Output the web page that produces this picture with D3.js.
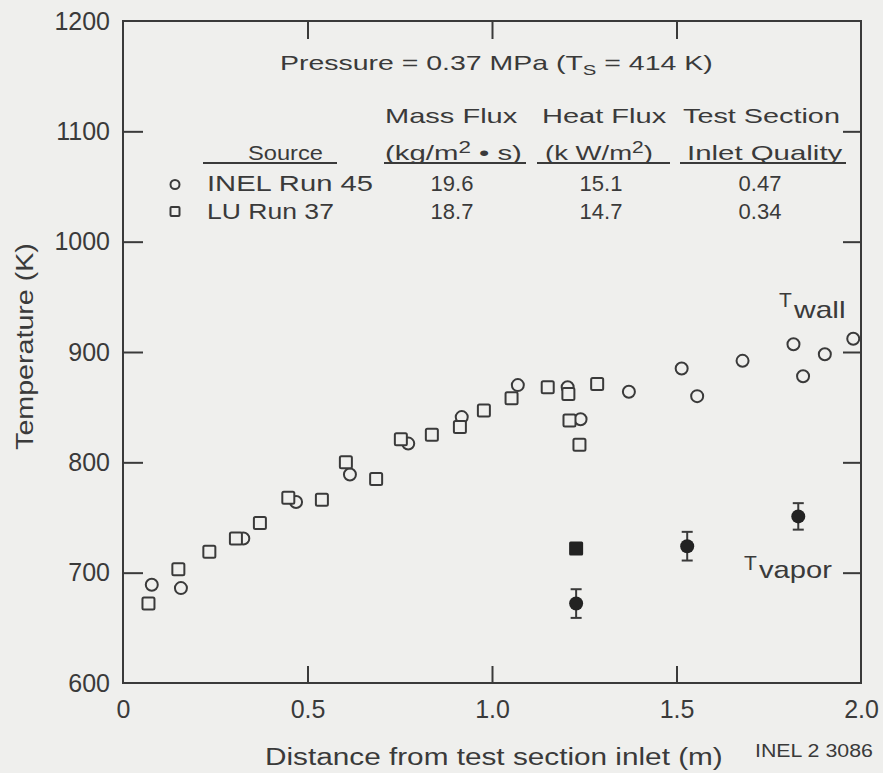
<!DOCTYPE html>
<html>
<head>
<meta charset="utf-8">
<script src="https://cdn.jsdelivr.net/npm/d3@7"></script>
<style>
  html, body { margin: 0; padding: 0; background: #efefed; }
  svg { display: block; }
  text { font-family: "Liberation Sans", Arial, Helvetica, sans-serif; fill: #3a3a3a; }
</style>
</head>
<body>
<svg id="chart" width="883" height="773"></svg>
<script>
// ---------------- data ----------------
const xTickValues = [0, 0.5, 1.0, 1.5, 2.0];
const xTickLabels = ["0", "0.5", "1.0", "1.5", "2.0"];
const yTickValues = [600, 700, 800, 900, 1000, 1100, 1200];
const yTickLabels = ["600", "700", "800", "900", "1000", "1100", "1200"];

// INEL Run 45 wall temperatures (open circles)
const inelX = [0.078, 0.157, 0.326, 0.469, 0.615, 0.773, 0.918, 1.070, 1.205, 1.240, 1.371, 1.514, 1.556, 1.679, 1.817, 1.843, 1.902, 1.979];
const inelY = [689, 686, 731, 764, 789, 817, 841, 870, 868, 839, 864, 885, 860, 892, 907, 878, 898, 912];

// LU Run 37 wall temperatures (open squares)
const luX = [0.069, 0.150, 0.234, 0.306, 0.371, 0.448, 0.539, 0.604, 0.686, 0.753, 0.837, 0.913, 0.978, 1.053, 1.151, 1.207, 1.210, 1.237, 1.285];
const luY = [672, 703, 719, 731, 745, 768, 766, 800, 785, 821, 825, 832, 847, 858, 868, 862, 838, 816, 871];

// INEL vapor temperatures (filled circles, with error bars)
const inelVaporX = [1.228, 1.529, 1.830];
const inelVaporY = [672, 724, 751];
const inelVaporErr = [13, 13, 12];

// LU vapor temperature (filled square)
const luVaporX = [1.228];
const luVaporY = [722];

// table
const tableSources = ["INEL  Run 45", "LU Run 37"];
const tableMassFlux = ["19.6", "18.7"];
const tableHeatFlux = ["15.1", "14.7"];
const tableQuality = ["0.47", "0.34"];

// ---------------- layout ----------------
const INK = "#3a3a3a";
const BG = "#efefed";
const L = 123, R = 861, T = 21, B = 683;

const svg = d3.select("#chart");
svg.append("rect").attr("width", 883).attr("height", 773).attr("fill", BG);

const x = d3.scaleLinear().domain([0, 2]).range([L, R]);
const y = d3.scaleLinear().domain([600, 1200]).range([B, T]);

// helper: stretch text horizontally to a target width
function fit(sel, x0, w) {
  const bw = sel.node().getBBox().width;
  const k = w / bw;
  sel.attr("transform", `translate(${x0},0) scale(${k},1) translate(${-x0},0)`);
  return sel;
}

// axes
const axL = svg.append("g").attr("transform", `translate(${L},0)`)
  .call(d3.axisLeft(y).tickValues(yTickValues).tickFormat((d, i) => yTickLabels[i])
        .tickSizeInner(-20).tickSizeOuter(0).tickPadding(13));
const axB = svg.append("g").attr("transform", `translate(0,${B})`)
  .call(d3.axisBottom(x).tickValues(xTickValues).tickFormat((d, i) => xTickLabels[i])
        .tickSizeInner(-17).tickSizeOuter(0).tickPadding(17));
const axT = svg.append("g").attr("transform", `translate(0,${T})`)
  .call(d3.axisTop(x).tickValues(xTickValues.slice(1, -1)).tickFormat("")
        .tickSizeInner(-18).tickSizeOuter(0));
const axR = svg.append("g").attr("transform", `translate(${R},0)`)
  .call(d3.axisRight(y).tickValues(yTickValues.slice(1, -1)).tickFormat("")
        .tickSizeInner(-18).tickSizeOuter(0));

[axL, axB, axT, axR].forEach(g => {
  g.select(".domain").remove();
  g.selectAll(".tick line").attr("stroke", INK).attr("stroke-width", 2);
  g.selectAll(".tick text").attr("fill", INK).style("font-size", "25px")
    .style("font-family", '"Liberation Sans", Arial, sans-serif');
});
// remove corner ticks (coincide with frame)
axL.selectAll(".tick line").filter(d => d === 600 || d === 1200).remove();
axB.selectAll(".tick line").filter(d => d === 0 || d === 2).remove();

// frame
svg.append("rect").attr("x", L).attr("y", T).attr("width", R - L).attr("height", B - T)
  .attr("fill", "none").attr("stroke", INK).attr("stroke-width", 2);

// axis titles
const xt = svg.append("text").attr("x", 265).attr("y", 765).style("font-size", "23px")
  .text("Distance from test section inlet (m)");
fit(xt, 265, 458);
const inelId = svg.append("text").attr("x", 755).attr("y", 757).style("font-size", "19px")
  .text("INEL 2 3086");
fit(inelId, 755, 118);

const yt = svg.append("text").style("font-size", "24px").attr("text-anchor", "middle")
  .text("Temperature (K)");
{
  const bw = yt.node().getBBox().width;
  const k = 207 / bw;
  yt.attr("transform", `translate(33,346.5) rotate(-90) scale(${k},1)`);
}

// ---------------- annotation ----------------
const pr = svg.append("text").attr("x", 280).attr("y", 70).style("font-size", "21px");
pr.append("tspan").text("Pressure = 0.37 MPa (T");
pr.append("tspan").attr("dy", 5).style("font-size", "15px").text("S");
pr.append("tspan").attr("dy", -5).text(" = 414 K)");
fit(pr, 280, 433);

function label(txt, x0, w, base, size) {
  const t = svg.append("text").attr("x", x0).attr("y", base).style("font-size", size + "px").text(txt);
  fit(t, x0, w);
  return t;
}
label("Mass Flux", 385, 133, 123, 21);
label("Heat Flux", 542, 125, 123, 21);
label("Test Section", 683, 157, 123, 21);
label("Source", 248, 75, 160, 21);
label("Inlet Quality", 687, 156, 160, 21);

const kg = svg.append("text").attr("x", 385).attr("y", 160).style("font-size", "21px");
kg.append("tspan").text("(kg/m");
kg.append("tspan").attr("dy", -7).style("font-size", "16px").text("2");
kg.append("tspan").attr("dy", 7).text(" \u2022 s)");
fit(kg, 385, 137);

const kw = svg.append("text").attr("x", 545).attr("y", 160).style("font-size", "21px");
kw.append("tspan").text("(k W/m");
kw.append("tspan").attr("dy", -7).style("font-size", "16px").text("2");
kw.append("tspan").attr("dy", 7).text(")");
fit(kw, 545, 108);

// underlines
const ulines = [[203, 337], [384, 526], [537, 670], [680, 846]];
svg.selectAll("line.ul").data(ulines).join("line").attr("class", "ul")
  .attr("x1", d => d[0]).attr("x2", d => d[1]).attr("y1", 163).attr("y2", 163)
  .attr("stroke", INK).attr("stroke-width", 2);

const rowBase = [191, 219];
const rowW = [166, 127];
tableSources.forEach((s, i) => label(s, 207, rowW[i], rowBase[i], 22));
function centered(txt, cx, base) {
  svg.append("text").attr("x", cx).attr("y", base).attr("text-anchor", "middle")
    .style("font-size", "22px").text(txt);
}
tableMassFlux.forEach((v, i) => centered(v, 452, rowBase[i]));
tableHeatFlux.forEach((v, i) => centered(v, 601, rowBase[i]));
tableQuality.forEach((v, i) => centered(v, 760, rowBase[i]));

// legend markers
svg.append("circle").attr("cx", 175).attr("cy", 184.5).attr("r", 4.5)
  .attr("fill", "none").attr("stroke", INK).attr("stroke-width", 2);
svg.append("rect").attr("x", 175 - 4.5).attr("y", 211.5 - 4.5).attr("width", 9).attr("height", 9).attr("rx", 1)
  .attr("fill", "none").attr("stroke", INK).attr("stroke-width", 2);

// T_wall / T_vapor labels
svg.append("text").attr("x", 779).attr("y", 307).style("font-size", "21px").text("T");
label("wall", 794, 53, 318, 23);
svg.append("text").attr("x", 744).attr("y", 570).style("font-size", "21px").text("T");
label("vapor", 759, 73, 578, 24);

// ---------------- marks ----------------
const inel = inelX.map((v, i) => ({ x: v, y: inelY[i] }));
const lu = luX.map((v, i) => ({ x: v, y: luY[i] }));
const vap = inelVaporX.map((v, i) => ({ x: v, y: inelVaporY[i], e: inelVaporErr[i] }));
const luVap = luVaporX.map((v, i) => ({ x: v, y: luVaporY[i] }));

svg.append("g").selectAll("circle").data(inel).join("circle")
  .attr("cx", d => x(d.x)).attr("cy", d => y(d.y)).attr("r", 6)
  .attr("fill", "none").attr("stroke", INK).attr("stroke-width", 2);

const sq = 12;
svg.append("g").selectAll("rect").data(lu).join("rect")
  .attr("x", d => x(d.x) - sq / 2).attr("y", d => y(d.y) - sq / 2)
  .attr("width", sq).attr("height", sq).attr("rx", 1.5)
  .attr("fill", BG).attr("stroke", INK).attr("stroke-width", 2);

const eg = svg.append("g").attr("stroke", INK).attr("stroke-width", 2);
vap.forEach(d => {
  const cx = x(d.x);
  eg.append("line").attr("x1", cx).attr("x2", cx).attr("y1", y(d.y + d.e)).attr("y2", y(d.y - d.e));
  eg.append("line").attr("x1", cx - 5.5).attr("x2", cx + 5.5).attr("y1", y(d.y + d.e)).attr("y2", y(d.y + d.e));
  eg.append("line").attr("x1", cx - 5.5).attr("x2", cx + 5.5).attr("y1", y(d.y - d.e)).attr("y2", y(d.y - d.e));
});
svg.append("g").selectAll("circle").data(vap).join("circle")
  .attr("cx", d => x(d.x)).attr("cy", d => y(d.y)).attr("r", 7).attr("fill", "#222");

svg.append("g").selectAll("rect").data(luVap).join("rect")
  .attr("x", d => x(d.x) - 7).attr("y", d => y(d.y) - 7).attr("width", 14).attr("height", 14).attr("rx", 1.5)
  .attr("fill", "#222");
</script>
</body>
</html>
